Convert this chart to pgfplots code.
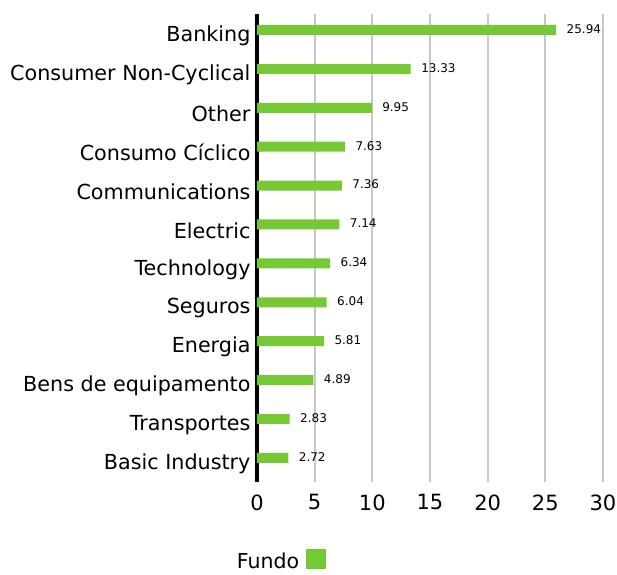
\documentclass[border=0pt]{standalone}
\usepackage{pgfplots}
\pgfplotsset{compat=1.18}
\usepackage{fontspec}
\setmainfont{DejaVu Sans}
\definecolor{barg}{RGB}{118,201,52}
\definecolor{gridg}{RGB}{200,200,200}
\begin{document}
\begin{tikzpicture}
\path[use as bounding box] (-257pt,-92pt) rectangle (360pt,482pt);
\begin{axis}[
  at={(0,0)}, anchor=south west,
  scale only axis,
  width=346pt, height=468pt,
  xbar, bar width=10pt, bar shift=0pt,
  xmin=0, xmax=30,
  ymin=-0.41, ymax=11.62,
  y dir=reverse,
  ytick={0,...,11},
  yticklabels={Banking,Consumer Non-Cyclical,Other,Consumo Cíclico,Communications,Electric,Technology,Seguros,Energia,Bens de equipamento,Transportes,Basic Industry},
  xtick={0,5,...,30},
  axis lines*=left,
  x axis line style={draw=none},
  y axis line style={line width=4pt, black, -},
  xmajorgrids, major grid style={gridg, line width=2pt},
  major tick length=0pt,
  tick label style={font=\fontsize{20.7}{20.7}\selectfont},
  xticklabel style={font=\fontsize{21}{21}\selectfont, yshift=-9pt},
  /pgf/number format/assume math mode=true,
  yticklabel style={xshift=-3pt, yshift=-6pt},
  nodes near coords,
  nodes near coords style={font=\fontsize{12}{12}\selectfont, anchor=west, xshift=7pt, yshift=1pt, black,
    /pgf/number format/.cd, fixed, precision=2, fixed zerofill},
  legend style={draw=none, at={(axis description cs:0.068,-0.168)}, anchor=center,
    font=\fontsize{20.5}{20.5}\selectfont, fill=none},
  legend plot pos=right,
  legend image code/.code={\fill[barg] (0pt,-7pt) rectangle (20pt,13pt);},
  clip=false,
]
\addplot[fill=barg, draw=none] coordinates {
  (25.94,0) (13.33,1) (9.95,2) (7.63,3) (7.36,4) (7.14,5)
  (6.34,6) (6.04,7) (5.81,8) (4.89,9) (2.83,10) (2.72,11)
};
\addlegendentry{Fundo\rule{5pt}{0pt}}
\end{axis}
\end{tikzpicture}
\end{document}
